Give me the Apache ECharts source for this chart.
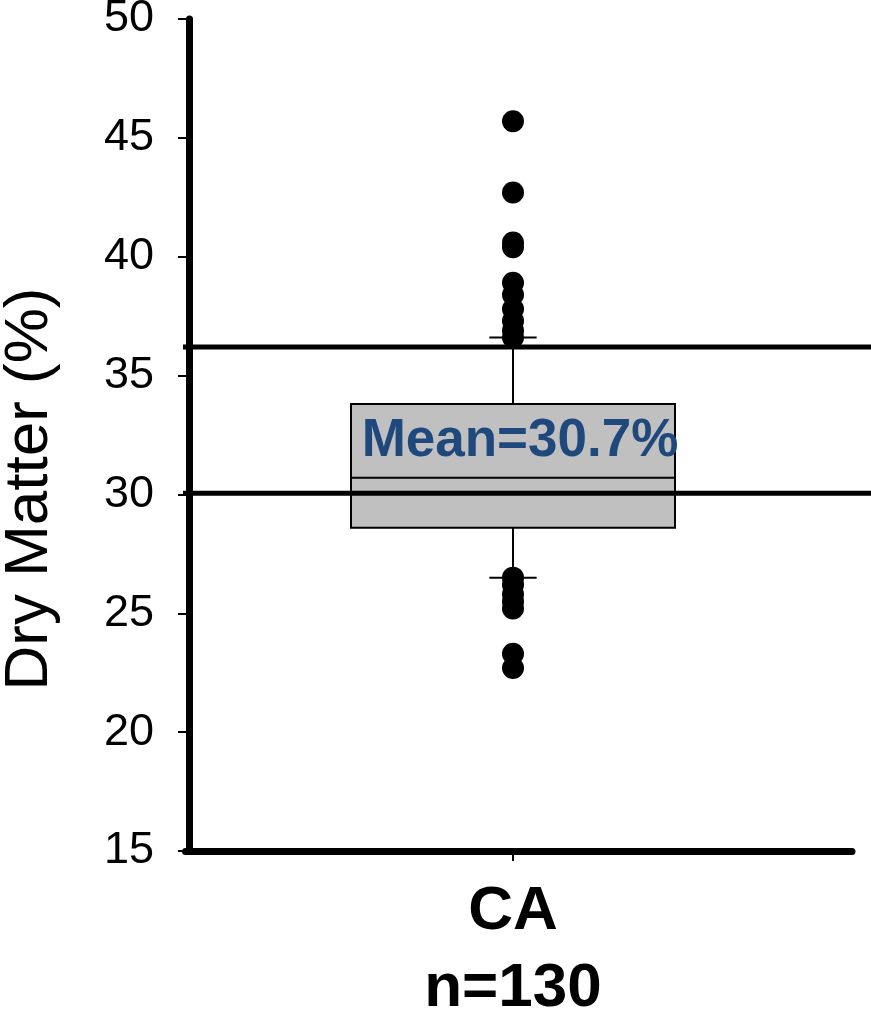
<!DOCTYPE html>
<html><head><meta charset="utf-8">
<script src="https://cdn.jsdelivr.net/npm/echarts@6/dist/echarts.min.js"></script>
<style>html,body{margin:0;padding:0;background:#fff}#c{width:871px;height:1014px}</style>
</head><body><div id="c"></div>
<script>
// ---- data ----
var categories = ['CA'];
var categoryLabels = ['CA\nn=130'];
// [lower whisker, Q1, median, Q3, upper whisker]
var boxStats = [[26.5, 28.6, 30.7, 33.8, 36.6]];
var outliers = [45.7, 42.7, 40.6, 40.4, 38.9, 38.4, 37.8, 37.3, 36.9, 36.6,
                26.5, 26.2, 25.8, 25.5, 25.2, 23.3, 22.7];
var referenceLines = [36.2, 30.05];
var meanLabel = 'Mean=30.7%';
var yTitle = 'Dry Matter (%)';
var yMin = 15, yMax = 50, yInterval = 5;

// ---- chart ----
var FONT = "'Liberation Sans', Arial, Helvetica, sans-serif";
var chart = echarts.init(document.getElementById('c'));

function renderBox(params, api) {
  var xi = api.value(0);
  var lo = api.coord([xi, api.value(1)]);
  var q1 = api.coord([xi, api.value(2)]);
  var md = api.coord([xi, api.value(3)]);
  var q3 = api.coord([xi, api.value(4)]);
  var hi = api.coord([xi, api.value(5)]);
  var band = api.size([1, 0])[0];
  var bw = band * 0.5, cw = band * 0.073;
  var cx = md[0];
  var ls = {stroke: '#000', lineWidth: 2};
  return {type: 'group', children: [
    {type: 'line', shape: {x1: cx, y1: q3[1], x2: cx, y2: hi[1]}, style: ls},
    {type: 'line', shape: {x1: cx, y1: q1[1], x2: cx, y2: lo[1]}, style: ls},
    {type: 'line', shape: {x1: cx - cw / 2, y1: hi[1], x2: cx + cw / 2, y2: hi[1]}, style: ls},
    {type: 'line', shape: {x1: cx - cw / 2, y1: lo[1], x2: cx + cw / 2, y2: lo[1]}, style: ls},
    {type: 'rect', shape: {x: cx - bw / 2, y: q3[1], width: bw, height: q1[1] - q3[1]},
     style: {fill: '#c0c0c0', stroke: '#000', lineWidth: 2}},
    {type: 'line', shape: {x1: cx - bw / 2, y1: md[1], x2: cx + bw / 2, y2: md[1]}, style: ls},
    {type: 'text', x: cx + 7, y: (q3[1] + md[1]) / 2, z2: 10,
     style: {text: meanLabel, font: 'bold 53px ' + FONT, fill: '#1F497D',
             align: 'center', verticalAlign: 'middle'}}
  ]};
}

var series = [
  {type: 'custom', xAxisIndex: 0, yAxisIndex: 0, z: 2, silent: true,
   renderItem: renderBox,
   data: boxStats.map(function (s, i) { return [i].concat(s); })},
  {type: 'scatter', xAxisIndex: 0, yAxisIndex: 0, z: 5, silent: true,
   symbol: 'circle', symbolSize: 22, itemStyle: {color: '#000', opacity: 1},
   data: outliers.map(function (v) { return [0, v]; })}
];
referenceLines.forEach(function (v) {
  series.push({type: 'line', xAxisIndex: 1, yAxisIndex: 1, z: 4, silent: true,
    symbol: 'none', lineStyle: {color: '#000', width: 5},
    data: [[0, v], [1, v]]});
});

var option = {
  animation: false,
  backgroundColor: '#fff',
  grid: [
    {left: 189, width: 648, top: 19, height: 832, outerBoundsMode: 'none', containLabel: false},
    {left: 183, right: 0, top: 19, height: 832, outerBoundsMode: 'none', containLabel: false},
    {left: 185.5, right: 19, top: 19, height: 832, outerBoundsMode: 'none', containLabel: false}
  ],
  xAxis: [
    {gridIndex: 0, type: 'category', data: categories,
     axisLine: {show: false},
     axisTick: {show: true, alignWithLabel: true, length: 10, lineStyle: {color: '#000', width: 2}},
     axisLabel: {interval: 0, margin: 22, color: '#000', fontFamily: FONT, fontSize: 62,
                 fontWeight: 'bold', lineHeight: 77,
                 formatter: function (v, i) { return categoryLabels[i]; }},
     splitLine: {show: false}},
    {gridIndex: 1, type: 'value', min: 0, max: 1, show: false},
    {gridIndex: 2, type: 'value', min: 0, max: 1,
     axisLine: {show: true, onZero: false, lineStyle: {color: '#000', width: 7}},
     axisTick: {show: false}, axisLabel: {show: false}, splitLine: {show: false}}
  ],
  yAxis: [
    {gridIndex: 0, type: 'value', min: yMin, max: yMax, interval: yInterval,
     axisLine: {show: true, lineStyle: {color: '#000', width: 7}},
     axisTick: {show: true, length: 11, lineStyle: {color: '#000', width: 2}},
     axisLabel: {margin: 35, color: '#000', fontFamily: FONT, fontSize: 45},
     splitLine: {show: false}},
    {gridIndex: 1, type: 'value', min: yMin, max: yMax, show: false},
    {gridIndex: 2, type: 'value', min: yMin, max: yMax, show: false}
  ],
  graphic: [
    {type: 'text', x: 30, y: 489, rotation: Math.PI / 2,
     style: {text: yTitle, font: '62px ' + FONT, fill: '#000', align: 'center', verticalAlign: 'middle'}}
  ],
  series: series
};
chart.setOption(option);
</script></body></html>
